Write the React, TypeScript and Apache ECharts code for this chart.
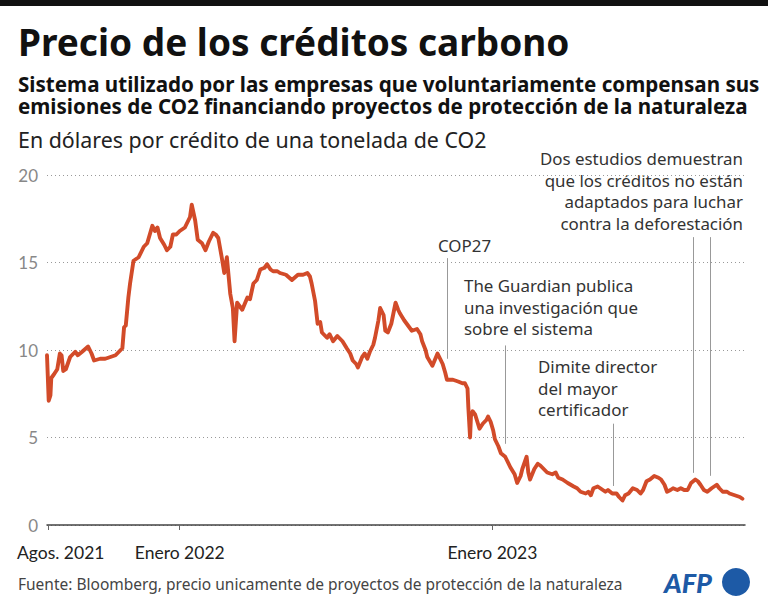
import React, { useEffect, useRef } from "react";
import * as echarts from "echarts";

const dates: string[] = [
  "2021-07-30","2021-08-01","2021-08-03","2021-08-04","2021-08-07","2021-08-11","2021-08-14","2021-08-16","2021-08-18","2021-08-21",
  "2021-08-26","2021-09-01","2021-09-04","2021-09-09","2021-09-16","2021-09-20","2021-09-23","2021-09-30","2021-10-06","2021-10-12",
  "2021-10-18","2021-10-24","2021-10-26","2021-10-28","2021-10-30","2021-11-02","2021-11-04","2021-11-08","2021-11-14","2021-11-20",
  "2021-11-24","2021-11-30","2021-12-03","2021-12-06","2021-12-09","2021-12-14","2021-12-17","2021-12-21","2021-12-24","2021-12-28",
  "2022-01-01","2022-01-07","2022-01-13","2022-01-15","2022-01-19","2022-01-22","2022-01-27","2022-01-31","2022-02-04","2022-02-09",
  "2022-02-12","2022-02-15","2022-02-19","2022-02-22","2022-02-25","2022-03-01","2022-03-04","2022-03-06","2022-03-09","2022-03-12",
  "2022-03-15","2022-03-21","2022-03-24","2022-03-28","2022-04-01","2022-04-05","2022-04-10","2022-04-13","2022-04-17","2022-04-20",
  "2022-04-25","2022-04-28","2022-05-05","2022-05-12","2022-05-19","2022-05-25","2022-05-30","2022-06-02","2022-06-04","2022-06-08",
  "2022-06-11","2022-06-14","2022-06-16","2022-06-22","2022-06-25","2022-06-29","2022-07-04","2022-07-10","2022-07-15","2022-07-19",
  "2022-07-22","2022-07-26","2022-07-28","2022-08-02","2022-08-05","2022-08-08","2022-08-11","2022-08-15","2022-08-17","2022-08-21",
  "2022-08-23","2022-08-27","2022-08-29","2022-09-01","2022-09-05","2022-09-10","2022-09-13","2022-09-15","2022-09-20","2022-09-23",
  "2022-09-29","2022-10-05","2022-10-09","2022-10-11","2022-10-15","2022-10-17","2022-10-23","2022-10-29","2022-11-01","2022-11-04",
  "2022-11-07","2022-11-09","2022-11-16","2022-11-22","2022-11-27","2022-11-30","2022-12-03","2022-12-04","2022-12-06","2022-12-07",
  "2022-12-09","2022-12-12","2022-12-17","2022-12-21","2022-12-25","2022-12-27","2022-12-30","2023-01-02","2023-01-04","2023-01-08",
  "2023-01-11","2023-01-16","2023-01-22","2023-01-27","2023-01-30","2023-02-03","2023-02-05","2023-02-10","2023-02-12","2023-02-14",
  "2023-02-19","2023-02-23","2023-02-26","2023-03-02","2023-03-06","2023-03-12","2023-03-16","2023-03-19","2023-03-24","2023-03-30",
  "2023-04-06","2023-04-10","2023-04-14","2023-04-20","2023-04-23","2023-04-26","2023-04-29","2023-05-04","2023-05-07","2023-05-13",
  "2023-05-16","2023-05-21","2023-05-26","2023-05-29","2023-06-02","2023-06-05","2023-06-09","2023-06-14","2023-06-19","2023-06-23",
  "2023-06-26","2023-06-30","2023-07-04","2023-07-09","2023-07-14","2023-07-17","2023-07-21","2023-07-24","2023-07-28","2023-07-31",
  "2023-08-05","2023-08-09","2023-08-13","2023-08-17","2023-08-21","2023-08-26","2023-08-29","2023-09-01","2023-09-05","2023-09-09",
  "2023-09-14","2023-09-20","2023-09-23","2023-09-27","2023-10-02","2023-10-05","2023-10-11","2023-10-17","2023-10-20"
];

const prices: number[] = [
  9.7,7.1,7.4,8.4,8.6,8.9,9.8,9.7,8.8,8.9,
  9.6,9.9,9.7,9.9,10.2,9.8,9.4,9.5,9.5,9.6,
  9.7,10.0,10.1,11.3,11.4,13.0,13.8,15.1,15.3,15.9,
  16.1,17.1,16.8,17.0,16.4,16.0,15.7,15.9,16.6,16.6,
  16.8,17.0,17.6,18.3,17.4,16.3,16.1,15.7,16.2,16.7,
  16.6,16.4,15.3,14.4,15.3,13.2,12.4,10.5,12.7,12.5,
  12.3,13.0,12.9,13.8,14.0,14.6,14.7,14.9,14.6,14.5,
  14.5,14.4,14.3,14.0,14.3,14.3,14.4,14.2,13.8,12.8,
  11.5,11.6,11.0,10.7,10.9,10.5,10.8,10.5,10.1,9.8,
  9.4,9.2,9.0,9.6,9.8,9.5,9.9,10.3,10.7,11.7,
  12.4,12.0,11.1,11.0,11.5,12.7,12.3,12.1,11.7,11.5,
  11.1,11.2,10.9,10.5,10.0,9.6,9.1,9.8,9.5,9.2,
  8.7,8.3,8.3,8.2,8.1,8.1,7.8,6.7,5.0,6.2,
  6.5,6.3,5.5,5.8,6.0,6.2,5.9,5.4,4.9,4.5,
  4.1,3.9,3.3,2.9,2.4,2.8,3.2,3.9,3.0,2.6,
  3.2,3.5,3.4,3.2,3.0,2.9,3.0,2.7,2.6,2.4,
  2.2,2.1,1.9,1.8,1.9,1.7,2.1,2.2,2.1,1.9,
  2.0,1.8,1.8,1.6,1.4,1.7,1.8,2.1,2.0,1.8,
  2.0,2.5,2.6,2.8,2.7,2.6,2.3,1.9,2.0,2.1,
  2.0,2.1,2.0,2.0,2.4,2.6,2.5,2.3,2.0,1.9,
  2.1,2.3,2.1,1.9,1.9,1.8,1.7,1.6,1.5
];

const xTickDates: string[] = ["2021-08-01", "2022-01-01", "2023-01-01"];
const xTickLabels: string[] = ["Agos. 2021", "Enero 2022", "Enero 2023"];

// Annotation leader lines: date, top value, bottom value
const eventDates: string[] = ["2022-11-09", "2023-01-16", "2023-05-22", "2023-08-24", "2023-09-13"];
const eventTop: number[] = [15.25, 10.26, 5.79, 16.45, 16.45];
const eventBottom: number[] = [9.5, 4.64, 2.23, 2.98, 2.81];

const title = "Precio de los créditos carbono";
const subtitle1 = "Sistema utilizado por las empresas que voluntariamente compensan sus";
const subtitle2 = "emisiones de CO2 financiando proyectos de protección de la naturaleza";
const unitText = "En dólares por crédito de una tonelada de CO2";
const sourceText = "Fuente: Bloomberg, precio unicamente de proyectos de protección de la naturaleza";
const notes: string[] = [
  "COP27",
  "The Guardian publica\nuna investigación que\nsobre el sistema",
  "Dimite director\ndel mayor\ncertificador",
  "Dos estudios demuestran\nque los créditos no están\nadaptados para luchar\ncontra la deforestación",
];

const FONT = "Lato, 'Noto Sans', sans-serif";
const NOTO = "'Noto Sans', Lato, sans-serif";
const toTs = (s: string) => {
  const [y, m, d] = s.split("-").map(Number);
  return Date.UTC(y, m - 1, d);
};

export default function App() {
  const ref = useRef<HTMLDivElement>(null);
  useEffect(() => {
    document.body.style.margin = "0";
    if (!ref.current) return;
    const chart = echarts.init(ref.current, null, { renderer: "svg" });
    const data = dates.map((d, i) => [toTs(d), prices[i]]);
    const tickTs = xTickDates.map(toTs);
    const markData = eventDates.map((d, i) => [
      { coord: [toTs(d), eventTop[i]] },
      { coord: [toTs(d), eventBottom[i]] },
    ]);
    const noteStyle = { fill: "#333", fontSize: 16.9, fontFamily: NOTO, lineHeight: 21.5 };
    chart.setOption({
      animation: false,
      backgroundColor: "#fff",
      grid: { left: 47, right: 23, top: 175, bottom: 83, containLabel: false },
      xAxis: {
        type: "value",
        min: toTs("2021-07-30"),
        max: toTs("2023-10-23"),
        axisLine: { show: true, onZero: true, lineStyle: { color: "#444", width: 1.5 } },
        axisTick: { show: true, customValues: tickTs, length: 5, lineStyle: { color: "#666", width: 1 } },
        axisLabel: {
          customValues: tickTs,
          margin: 18,
          color: "#222",
          fontSize: 17.5,
          fontFamily: FONT,
          formatter: (v: number) => {
            const i = tickTs.indexOf(v);
            if (i < 0) return "";
            return i === 0 ? "{a|" + xTickLabels[i] + "}" : xTickLabels[i];
          },
          rich: { a: { padding: [0, 0, 0, 24], fontSize: 17.5, fontFamily: FONT, color: "#222" } },
        },
        splitLine: { show: false },
      },
      yAxis: {
        type: "value",
        min: 0,
        max: 20,
        interval: 5,
        axisLine: { show: false },
        axisTick: { show: false },
        axisLabel: {
          margin: 9,
          color: "#888",
          fontSize: 17,
          fontFamily: FONT,
        },
        splitLine: { show: true, lineStyle: { color: "#999", width: 1, type: [1, 3] } },
      },
      series: [
        {
          type: "line",
          data,
          showSymbol: false,
          symbol: "none",
          lineStyle: { color: "#d24b29", width: 3.9, join: "round", cap: "round" },
          z: 3,
          markLine: {
            silent: true,
            symbol: ["none", "none"],
            label: { show: false },
            lineStyle: { color: "#999", width: 1, type: "solid" },
            data: markData,
            z: 2,
          },
        },
      ],
      graphic: [
        { type: "rect", shape: { x: 0, y: 0, width: 768, height: 6 }, style: { fill: "#111" } },
        { type: "text", x: 18, y: 41, style: { text: title, fill: "#111", fontSize: 37, fontWeight: "bold", fontFamily: NOTO, verticalAlign: "middle" } },
        { type: "text", x: 18, y: 83.5, style: { text: subtitle1, fill: "#111", fontSize: 20.6, lineHeight: 21, fontWeight: "bold", fontFamily: NOTO, verticalAlign: "middle" } },
        { type: "text", x: 18, y: 105.5, style: { text: subtitle2, fill: "#111", fontSize: 20.6, lineHeight: 21, fontWeight: "bold", fontFamily: NOTO, verticalAlign: "middle" } },
        { type: "text", x: 18, y: 139, style: { text: unitText, fill: "#222", fontSize: 21.4, fontFamily: NOTO, verticalAlign: "middle" } },
        { type: "text", x: 438, y: 245, style: { ...noteStyle, text: notes[0], verticalAlign: "middle" } },
        { type: "text", x: 464, y: 307, style: { ...noteStyle, text: notes[1], verticalAlign: "middle" } },
        { type: "text", x: 538, y: 388, style: { ...noteStyle, text: notes[2], verticalAlign: "middle" } },
        { type: "text", x: 743, y: 191, style: { ...noteStyle, text: notes[3], align: "right", verticalAlign: "middle" } },
        { type: "text", x: 18, y: 584, style: { text: sourceText, fill: "#444", fontSize: 15.5, fontFamily: NOTO, verticalAlign: "middle" } },
        { type: "text", x: 664, y: 582, style: { text: "AFP", fill: "#1d5aa6", fontSize: 27, fontWeight: 900, fontStyle: "italic", fontFamily: FONT, verticalAlign: "middle" } },
        { type: "circle", shape: { cx: 736, cy: 582, r: 14 }, style: { fill: "#1d5aa6" } },
      ],
    });
    return () => chart.dispose();
  }, []);
  return <div ref={ref} style={{ width: 768, height: 608 }} />;
}
